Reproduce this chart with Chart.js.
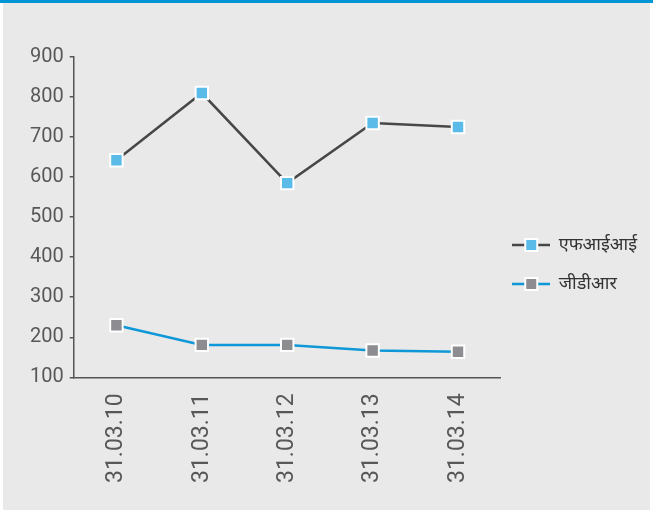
<!DOCTYPE html>
<html>
<head>
<meta charset="utf-8">
<script src="https://cdn.jsdelivr.net/npm/chart.js@4.4.0/dist/chart.umd.min.js"></script>
<style>
  html, body { margin: 0; padding: 0; background: #ffffff; }
  #topbar { position: absolute; left: 0; top: 0; width: 653px; height: 3px; background: #0096d6; }
  #panel { position: absolute; left: 3px; top: 3px; width: 647px; height: 507px; background: #e9e9e9; }
  #wrap { position: absolute; left: 0; top: 0; width: 653px; height: 514px; }
</style>
</head>
<body>
<div id="topbar"></div>
<div id="panel"></div>
<div id="wrap"><canvas id="c"></canvas></div>
<script>
const categories = ['31.03.10', '31.03.11', '31.03.12', '31.03.13', '31.03.14'];
const seriesNames = ['एफआईआई', 'जीडीआर'];
const fiiValues = [642, 810, 585, 735, 725];
const gdrValues = [230, 181, 181, 167, 164];
const yTicks = [100, 200, 300, 400, 500, 600, 700, 800, 900];

const lineColors = ['#474747', '#0f98d7'];
const markerColors = ['#5bbbe8', '#8c8c91'];

function legendIcon(lineColor, fill) {
  const c = document.createElement('canvas');
  c.width = 38; c.height = 14;
  const g = c.getContext('2d');
  g.strokeStyle = lineColor; g.lineWidth = 2.5;
  g.beginPath(); g.moveTo(0, 7); g.lineTo(38, 7); g.stroke();
  g.fillStyle = '#ffffff'; g.fillRect(12, 0, 14, 14);
  g.fillStyle = fill; g.fillRect(14, 2, 10, 10);
  return c;
}
const icons = [legendIcon(lineColors[0], markerColors[0]), legendIcon(lineColors[1], markerColors[1])];

new Chart(document.getElementById('c'), {
  type: 'line',
  data: {
    labels: categories,
    datasets: [
      { label: seriesNames[0], data: fiiValues, borderColor: lineColors[0], borderWidth: 2.5,
        pointStyle: 'rect', pointRadius: 8.8, pointBorderWidth: 2, pointBorderColor: '#ffffff',
        pointBackgroundColor: markerColors[0], tension: 0, fill: false },
      { label: seriesNames[1], data: gdrValues, borderColor: lineColors[1], borderWidth: 2.5,
        pointStyle: 'rect', pointRadius: 8.8, pointBorderWidth: 2, pointBorderColor: '#ffffff',
        pointBackgroundColor: markerColors[1], tension: 0, fill: false }
    ]
  },
  options: {
    responsive: true,
    maintainAspectRatio: false,
    animation: false,
    layout: { padding: { left: 24, top: 57, right: 6, bottom: 23 } },
    plugins: {
      tooltip: { enabled: false },
      legend: {
        position: 'right',
        align: 'start',
        title: { display: true, text: '', font: { size: 10, lineHeight: 1 }, padding: { top: 157, bottom: 0 } },
        labels: {
          usePointStyle: true,
          pointStyleWidth: 37,
          padding: 12,
          color: '#333333',
          font: { family: 'Noto Sans, sans-serif', size: 18, lineHeight: 1.5 },
          generateLabels: (chart) => chart.data.datasets.map((ds, i) => ({
            text: [ds.label], pointStyle: icons[i], fillStyle: markerColors[i],
            strokeStyle: lineColors[i], lineWidth: 0, hidden: false, datasetIndex: i, fontColor: '#333333'
          }))
        }
      }
    },
    scales: {
      x: {
        offset: true,
        grid: { display: false },
        border: { display: true, color: '#555555', width: 1.5 },
        ticks: { color: '#585858', minRotation: 90, maxRotation: 90, padding: 8,
                 font: { family: 'Roboto', size: 23 } }
      },
      y: {
        min: 100, max: 900,
        afterBuildTicks: (axis) => { axis.ticks = yTicks.map(v => ({ value: v })); },
        grid: { drawOnChartArea: false, drawTicks: true, tickLength: 4, color: '#555555', lineWidth: 1.5 },
        border: { display: true, color: '#555555', width: 1.5 },
        ticks: { color: '#585858', padding: 6, font: { family: 'Roboto', size: 20 } }
      }
    }
  }
});
</script>
</body>
</html>
